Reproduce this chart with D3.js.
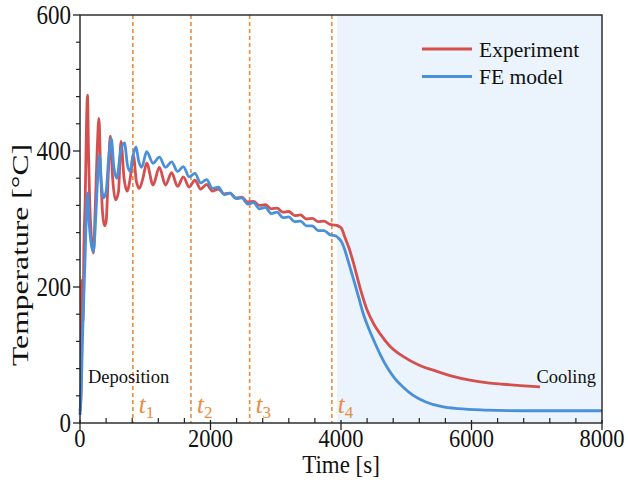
<!DOCTYPE html>
<html><head><meta charset="utf-8">
<script src="https://cdn.jsdelivr.net/npm/d3@7"></script>
<style>body{margin:0;background:#fff}svg{display:block}</style>
</head><body><svg id="c" width="628" height="492"></svg>
<script>
// ---- data ----
const expTime=[0,15,30,45,60,80,100,115,130,150,175,205,235,265,290,315,345,375,400,435,465,500,545,590,628,675,720,770,817,865,910,965,1022,1120,1216,1310,1405,1495,1584,1673,1762,1850,1941,2030,2120,2210,2300,2390,2480,2570,2660,2750,2840,2930,3020,3110,3200,3290,3380,3470,3560,3650,3740,3830,3920,3970,4010,4060,4120,4190,4300,4400,4500,4600,4750,4950,5200,5467,5700,5977,6250,6487,6750,7050];
const expTemp=[18,40,210,150,260,330,440,482,400,320,272,250,320,405,448,375,310,290,296,370,422,360,328,340,414,360,341,360,394,355,345,360,382,350,376,350,368,348,362,347,357,344,351,341,344,337,338,331,332,325,326,320,321,315,316,310,311,305,306,300,301,296,297,292,291,289,286,273,258,236,196,166,146,131,113,98,85,76,69,63,59,57,55,53];
const feTime=[0,20,40,60,80,100,117,140,165,205,240,270,297,325,360,400,440,480,520,565,620,680,730,770,810,858,900,945,1022,1120,1216,1310,1405,1495,1584,1673,1762,1850,1941,2030,2120,2210,2300,2390,2480,2570,2660,2750,2840,2930,3020,3110,3200,3290,3380,3470,3560,3650,3740,3830,3920,3970,4010,4060,4110,4190,4270,4340,4420,4500,4600,4700,4820,4950,5100,5300,5550,5800,6200,6800,7500,8000];
const feTemp=[12,50,130,190,250,315,338,295,268,252,300,360,394,355,331,340,390,418,375,360,398,412,378,370,392,406,385,376,399,382,391,376,384,370,377,362,367,353,358,345,347,336,338,330,331,322,324,315,317,308,310,302,303,296,297,290,290,283,283,277,275,271,266,254,238,212,185,161,140,122,101,83,66,53,41,31,24,21,19,18,18,18];
const seriesNames=["Experiment","FE model"];
const xTicks=[0,2000,4000,6000,8000];
const yTicks=[0,200,400,600];
const markerTimes=[810,1700,2600,3860];
const markerLabels=["1","2","3","4"];
const coolingStart=3940;
const phaseLabels=["Deposition","Cooling"];

// ---- layout ----
const svg=d3.select("#c");
const L=80,R=602,T=15,B=423;
const x=d3.scaleLinear().domain([0,8000]).range([L,R]);
const y=d3.scaleLinear().domain([0,600]).range([B,T]);
const red="#d64f4f", blue="#4a90d9", orange="#ee8a3e";
const serif="'Liberation Serif','Times New Roman',serif";

svg.append("rect").attr("width",628).attr("height",492).attr("fill","#fff");
// cooling shade
svg.append("rect").attr("x",x(coolingStart)).attr("y",T)
  .attr("width",x(8000)-x(coolingStart)).attr("height",B-T).attr("fill","#ebf4fc");

// dashed markers
svg.selectAll("line.mk").data(markerTimes).enter().append("line")
  .attr("x1",d=>x(d)).attr("x2",d=>x(d)).attr("y1",T).attr("y2",B)
  .attr("stroke",orange).attr("stroke-width",1.6).attr("stroke-dasharray","4,3");

// series
const line=d3.line().x(d=>x(d[0])).y(d=>y(d[1])).curve(d3.curveMonotoneX);
const expData=expTime.map((t,i)=>[t,expTemp[i]]);
const feData=feTime.map((t,i)=>[t,feTemp[i]]);
svg.append("path").attr("d",line(expData)).attr("fill","none").attr("stroke",red).attr("stroke-width",2.8).attr("stroke-linejoin","round");
svg.append("path").attr("d",line(feData)).attr("fill","none").attr("stroke",blue).attr("stroke-width",2.8).attr("stroke-linejoin","round");

// frame
svg.append("rect").attr("x",L).attr("y",T).attr("width",R-L).attr("height",B-T)
  .attr("fill","none").attr("stroke","#222").attr("stroke-width",1.4);

// x ticks
const xMinor=d3.range(0,8001,400).filter(v=>v%2000!==0);
svg.selectAll("line.xm").data(xMinor).enter().append("line")
  .attr("x1",d=>x(d)).attr("x2",d=>x(d)).attr("y1",B-5).attr("y2",B)
  .attr("stroke","#222").attr("stroke-width",1.2);
svg.selectAll("line.xM").data(xTicks).enter().append("line")
  .attr("x1",d=>x(d)).attr("x2",d=>x(d)).attr("y1",B-3).attr("y2",B+7)
  .attr("stroke","#222").attr("stroke-width",1.3);
svg.selectAll("text.xt").data(xTicks).enter().append("text")
  .attr("transform",d=>`translate(${x(d)},447) scale(1,1.15)`)
  .attr("text-anchor","middle").attr("font-family",serif).attr("font-size",22.5).attr("fill","#111")
  .text(d=>d);

// y ticks
const yMinor=d3.range(0,601,40).filter(v=>v%200!==0);
svg.selectAll("line.ym").data(yMinor).enter().append("line")
  .attr("x1",L-4).attr("x2",L).attr("y1",d=>y(d)).attr("y2",d=>y(d))
  .attr("stroke","#222").attr("stroke-width",1.2);
svg.selectAll("line.yM").data(yTicks).enter().append("line")
  .attr("x1",L-7).attr("x2",L).attr("y1",d=>y(d)).attr("y2",d=>y(d))
  .attr("stroke","#222").attr("stroke-width",1.3);
svg.selectAll("text.yt").data(yTicks).enter().append("text")
  .attr("transform",d=>`translate(71,${y(d)+9}) scale(1,1.15)`)
  .attr("text-anchor","end").attr("font-family",serif).attr("font-size",23).attr("fill","#111")
  .text(d=>d);

// axis titles
svg.append("text").attr("transform","translate(341,473) scale(1,1.1)")
  .attr("text-anchor","middle").attr("font-family",serif).attr("font-size",23).attr("fill","#111")
  .text("Time [s]");
svg.append("text").attr("transform","translate(28,255) rotate(-90)")
  .attr("text-anchor","middle").attr("font-family",serif).attr("font-size",23).attr("fill","#111")
  .attr("textLength",222).attr("lengthAdjust","spacingAndGlyphs")
  .text("Temperature [°C]");

// marker labels t1..t4
markerTimes.forEach((t,i)=>{
  const tx=svg.append("text").attr("x",x(t)+6).attr("y",413)
    .attr("font-family",serif).attr("fill",orange);
  tx.append("tspan").attr("font-style","italic").attr("font-size",25).text("t");
  tx.append("tspan").attr("font-size",17).attr("dy",5).text(markerLabels[i]);
});

// phase labels
svg.append("text").attr("x",88).attr("y",383).attr("font-family",serif).attr("font-size",18.5).attr("fill","#111").text(phaseLabels[0]);
svg.append("text").attr("x",596).attr("y",383).attr("text-anchor","end").attr("font-family",serif).attr("font-size",18.5).attr("fill","#111").text(phaseLabels[1]);

// legend
const legCol=[red,blue];
seriesNames.forEach((n,i)=>{
  const ly=49+i*27.5;
  svg.append("line").attr("x1",422).attr("x2",472).attr("y1",ly).attr("y2",ly)
    .attr("stroke",legCol[i]).attr("stroke-width",2.8);
  svg.append("text").attr("x",479).attr("y",ly+7.5).attr("font-family",serif)
    .attr("font-size",21.5).attr("fill","#111").text(n);
});
</script>
</body></html>
